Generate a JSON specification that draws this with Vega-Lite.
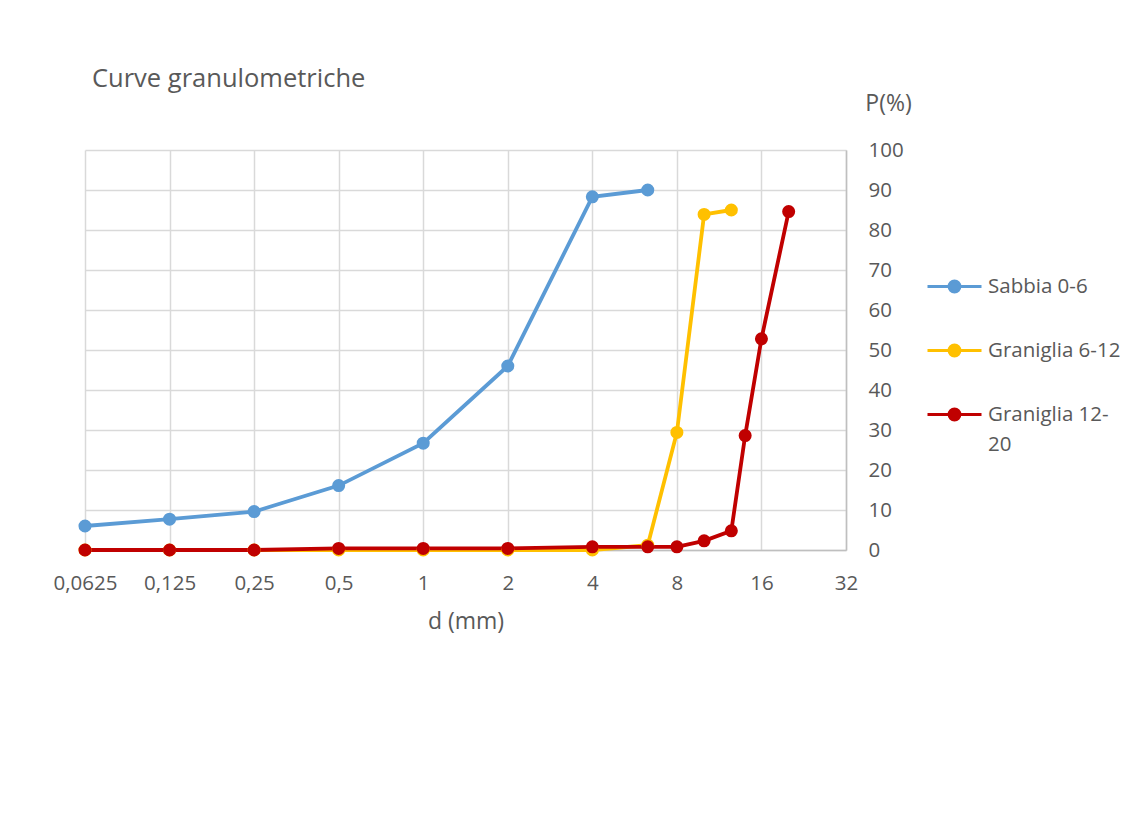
{
  "$schema": "https://vega.github.io/schema/vega-lite/v6.json",
  "autosize": {"type": "none"},
  "padding": {"left": 85, "top": 150, "right": 284, "bottom": 266},
  "width": 761,
  "height": 400,
  "background": "white",
  "title": {
    "text": "Curve granulometriche",
    "anchor": "start",
    "frame": "group",
    "font": "Open Sans",
    "fontSize": 25.5,
    "fontWeight": "normal",
    "color": "#595959",
    "dx": 7,
    "dy": 4
  },
  "data": {
    "values": [
      {"serie": "Sabbia 0-6", "d": 0.0625, "p": 6.0},
      {"serie": "Sabbia 0-6", "d": 0.125, "p": 7.7},
      {"serie": "Sabbia 0-6", "d": 0.25, "p": 9.6},
      {"serie": "Sabbia 0-6", "d": 0.5, "p": 16.1},
      {"serie": "Sabbia 0-6", "d": 1, "p": 26.7},
      {"serie": "Sabbia 0-6", "d": 2, "p": 46.0},
      {"serie": "Sabbia 0-6", "d": 4, "p": 88.3},
      {"serie": "Sabbia 0-6", "d": 6.3, "p": 90.0},
      {"serie": "Graniglia 6-12", "d": 0.0625, "p": 0},
      {"serie": "Graniglia 6-12", "d": 0.125, "p": 0},
      {"serie": "Graniglia 6-12", "d": 0.25, "p": 0},
      {"serie": "Graniglia 6-12", "d": 0.5, "p": 0},
      {"serie": "Graniglia 6-12", "d": 1, "p": 0},
      {"serie": "Graniglia 6-12", "d": 2, "p": 0},
      {"serie": "Graniglia 6-12", "d": 4, "p": 0},
      {"serie": "Graniglia 6-12", "d": 6.3, "p": 1.2},
      {"serie": "Graniglia 6-12", "d": 8, "p": 29.4},
      {"serie": "Graniglia 6-12", "d": 10, "p": 83.9},
      {"serie": "Graniglia 6-12", "d": 12.5, "p": 85.0},
      {"serie": "Graniglia 12-20", "d": 0.0625, "p": 0},
      {"serie": "Graniglia 12-20", "d": 0.125, "p": 0},
      {"serie": "Graniglia 12-20", "d": 0.25, "p": 0},
      {"serie": "Graniglia 12-20", "d": 0.5, "p": 0.4},
      {"serie": "Graniglia 12-20", "d": 1, "p": 0.4},
      {"serie": "Graniglia 12-20", "d": 2, "p": 0.4},
      {"serie": "Graniglia 12-20", "d": 4, "p": 0.8},
      {"serie": "Graniglia 12-20", "d": 6.3, "p": 0.8},
      {"serie": "Graniglia 12-20", "d": 8, "p": 0.8},
      {"serie": "Graniglia 12-20", "d": 10, "p": 2.3},
      {"serie": "Graniglia 12-20", "d": 12.5, "p": 4.8},
      {"serie": "Graniglia 12-20", "d": 14, "p": 28.6},
      {"serie": "Graniglia 12-20", "d": 16, "p": 52.8},
      {"serie": "Graniglia 12-20", "d": 20, "p": 84.6}
    ]
  },
  "encoding": {
    "x": {
      "field": "d",
      "type": "quantitative",
      "scale": {"type": "log", "base": 2, "domain": [0.0625, 32], "nice": false},
      "axis": {
        "title": "d (mm)",
        "values": [0.0625, 0.125, 0.25, 0.5, 1, 2, 4, 8, 16, 32],
        "labelExpr": "replace(toString(datum.value), '.', ',')",
        "labelFlush": false,
        "labelOverlap": false,
        "labelPadding": 23,
        "ticks": false,
        "domainColor": "#bfbfbf",
        "domainWidth": 1.5,
        "gridColor": "#d9d9d9",
        "gridWidth": 1.5,
        "titleY": 71,
        "titleBaseline": "middle"
      }
    },
    "y": {
      "field": "p",
      "type": "quantitative",
      "scale": {"domain": [0, 100], "nice": false},
      "axis": {
        "orient": "right",
        "title": "P(%)",
        "values": [0, 10, 20, 30, 40, 50, 60, 70, 80, 90, 100],
        "ticks": false,
        "labelPadding": 22,
        "labelBaseline": "middle",
        "domainColor": "#bfbfbf",
        "domainWidth": 1.5,
        "gridColor": "#d9d9d9",
        "gridWidth": 1.5,
        "titleAngle": 0,
        "titleAlign": "center",
        "titleBaseline": "middle",
        "titleX": 42,
        "titleY": -47
      }
    },
    "color": {
      "field": "serie",
      "type": "nominal",
      "sort": ["Sabbia 0-6", "Graniglia 6-12", "Graniglia 12-20"],
      "scale": {
        "domain": ["Sabbia 0-6", "Graniglia 6-12", "Graniglia 12-20"],
        "range": ["#5B9BD5", "#FFC000", "#C00000"]
      },
      "legend": {
        "title": null,
        "orient": "none",
        "legendX": 841,
        "legendY": 108,
        "padding": 0,
        "rowPadding": 24,
        "symbolType": "M-1,0H1M0.2,0A0.2,0.2,0,1,1,-0.2,0A0.2,0.2,0,1,1,0.2,0Z",
        "symbolSize": 2916,
        "symbolStrokeWidth": 3,
        "labelOffset": 5,
        "labelFont": "Open Sans",
        "labelFontSize": 20.5,
        "labelColor": "#595959",
        "labelBaseline": "middle",
        "labelLimit": 300,
        "labelExpr": "datum.label == 'Graniglia 12-20' ? ['Graniglia 12-', '20'] : datum.label",
        "encode": {
          "symbols": {"update": {"fill": {"scale": "color", "field": "value"}}},
          "labels": {"update": {"lineHeight": {"value": 30}}}
        }
      }
    }
  },
  "layer": [
    {"mark": {"type": "line", "strokeWidth": 3.8}},
    {"mark": {"type": "point", "filled": true, "opacity": 1, "size": 170, "shape": "circle"}}
  ],
  "config": {
    "view": {"stroke": null},
    "font": "Open Sans",
    "axis": {
      "labelFont": "Open Sans",
      "labelFontSize": 20.5,
      "labelColor": "#595959",
      "titleFont": "Open Sans",
      "titleFontSize": 23,
      "titleFontWeight": "normal",
      "titleColor": "#595959"
    }
  }
}
